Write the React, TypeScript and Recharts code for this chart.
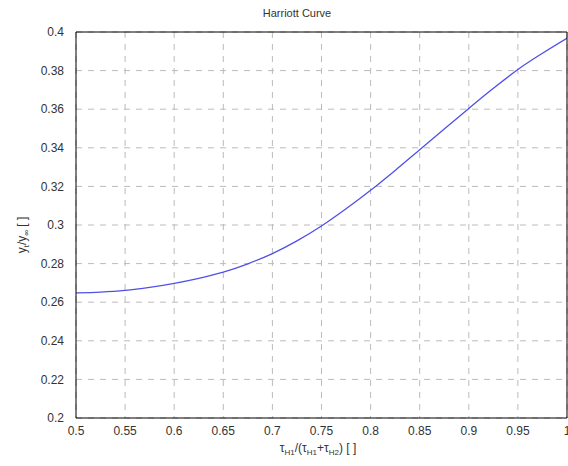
import React from "react";
import { LineChart, Line, XAxis, YAxis, CartesianGrid } from "recharts";

const ratioX = [0.5, 0.525, 0.55, 0.575, 0.6, 0.625, 0.65, 0.675, 0.7, 0.725, 0.75, 0.775, 0.8, 0.825, 0.85, 0.875, 0.9, 0.925, 0.95, 0.975, 1.0];
const yRatio = [0.2648, 0.2652, 0.2661, 0.2677, 0.2698, 0.2724, 0.2756, 0.2799, 0.2852, 0.2918, 0.2995, 0.3084, 0.318, 0.3283, 0.339, 0.3498, 0.3604, 0.3708, 0.3806, 0.389, 0.3968];
const xTicks = [0.5, 0.55, 0.6, 0.65, 0.7, 0.75, 0.8, 0.85, 0.9, 0.95, 1];
const yTicks = [0.2, 0.22, 0.24, 0.26, 0.28, 0.3, 0.32, 0.34, 0.36, 0.38, 0.4];

const data = ratioX.map((x, i) => ({ x, y: yRatio[i] }));

const FONT = "'Liberation Sans', Arial, sans-serif";
const tickStyle = { fontSize: 12, fill: "#333", fontFamily: FONT };

export default function App() {
  return (
    <div style={{ position: "absolute", left: 0, top: 0, width: 568, height: 466, background: "#fff" }}>
      <LineChart width={568} height={466} data={data} margin={{ top: 32, right: 1, bottom: 0, left: 0 }}>
        <CartesianGrid
          xAxisId="main"
          yAxisId="main"
          stroke="#bbb"
          strokeDasharray="6 6"
          verticalValues={xTicks}
          horizontalValues={yTicks}
        />
        <XAxis
          xAxisId="main"
          dataKey="x"
          type="number"
          domain={[0.5, 1]}
          ticks={xTicks}
          allowDataOverflow
          height={48}
          tickLine={false}
          axisLine={{ stroke: "#000" }}
          tick={tickStyle}
          tickMargin={2}
          interval={0}
        />
        <XAxis
          xAxisId="bottomIn"
          dataKey="x"
          type="number"
          domain={[0.5, 1]}
          ticks={xTicks}
          height={1}
          mirror
          tick={false}
          tickSize={4}
          tickLine={{ stroke: "#000" }}
          axisLine={false}
          interval={0}
        />
        <XAxis
          xAxisId="top"
          orientation="top"
          dataKey="x"
          type="number"
          domain={[0.5, 1]}
          ticks={xTicks}
          height={1}
          mirror
          tick={false}
          tickSize={4}
          tickLine={{ stroke: "#000" }}
          axisLine={{ stroke: "#000" }}
          interval={0}
        />
        <YAxis
          yAxisId="main"
          type="number"
          domain={[0.2, 0.4]}
          ticks={yTicks}
          width={76}
          tickLine={false}
          axisLine={{ stroke: "#000" }}
          tick={tickStyle}
          tickMargin={6}
          interval={0}
        />
        <YAxis
          yAxisId="leftIn"
          type="number"
          domain={[0.2, 0.4]}
          ticks={yTicks}
          width={1}
          mirror
          tick={false}
          tickSize={4}
          tickLine={{ stroke: "#000" }}
          axisLine={false}
          interval={0}
        />
        <YAxis
          yAxisId="right"
          orientation="right"
          type="number"
          domain={[0.2, 0.4]}
          ticks={yTicks}
          width={1}
          mirror
          tick={false}
          tickSize={4}
          tickLine={{ stroke: "#000" }}
          axisLine={{ stroke: "#000" }}
          interval={0}
        />
        <Line
          xAxisId="main"
          yAxisId="main"
          dataKey="y"
          type="monotone"
          stroke="#5050e6"
          strokeWidth={1.3}
          dot={false}
          isAnimationActive={false}
        />
      </LineChart>
      <svg width={568} height={466} style={{ position: "absolute", left: 0, top: 0, pointerEvents: "none" }}>
        <text x={297} y={17} textAnchor="middle" fontSize={11} fill="#333" fontFamily={FONT}>
          Harriott Curve
        </text>
        <text
          transform="translate(26,235) rotate(-90)"
          textAnchor="middle"
          fontSize={12}
          fill="#333"
          fontFamily={FONT}
        >
          y<tspan fontSize={8} dy={3}>t</tspan>
          <tspan dy={-3}>/y</tspan>
          <tspan fontSize={8} dy={3}>∞</tspan>
          <tspan dy={-3}> [ ]</tspan>
        </text>
        <text x={318} y={452} textAnchor="middle" fontSize={12} fill="#333" fontFamily={FONT}>
          τ<tspan fontSize={8} dy={3}>H1</tspan>
          <tspan dy={-3}>/(τ</tspan>
          <tspan fontSize={8} dy={3}>H1</tspan>
          <tspan dy={-3}>+τ</tspan>
          <tspan fontSize={8} dy={3}>H2</tspan>
          <tspan dy={-3}>) [ ]</tspan>
        </text>
      </svg>
    </div>
  );
}
